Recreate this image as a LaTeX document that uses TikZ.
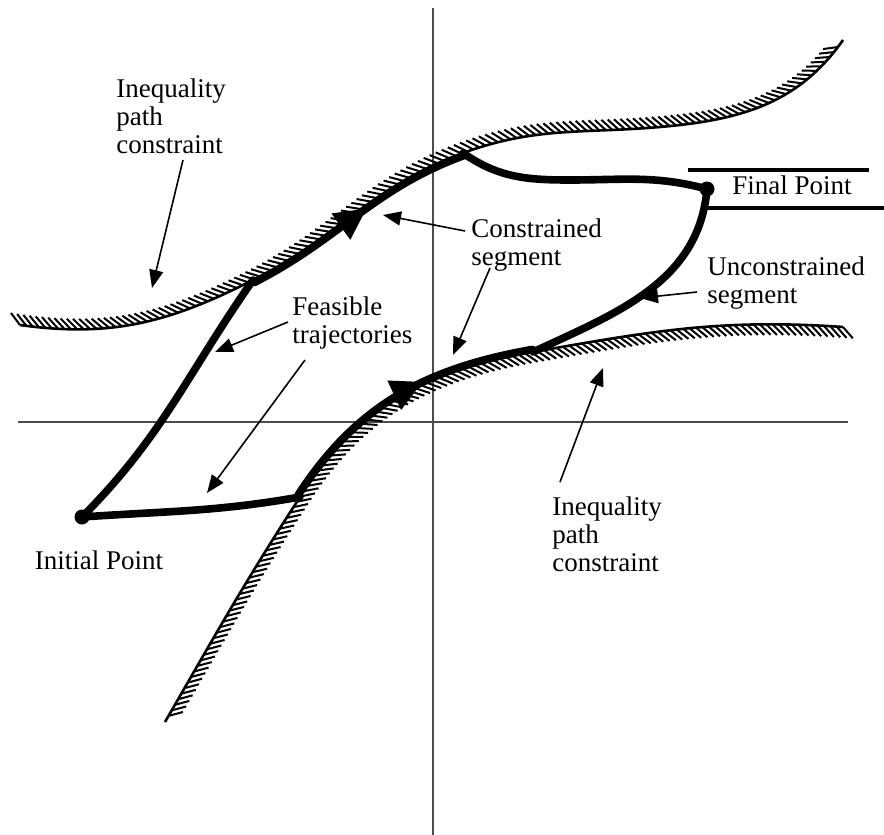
\documentclass[tikz,border=0pt]{standalone}
\usepackage{fontspec}
\setmainfont{Liberation Serif}
\usetikzlibrary{arrows.meta, decorations.pathreplacing, decorations.markings}

\begin{document}
\begin{tikzpicture}[x=0.5pt, y=0.5pt,
    constraint/.style={line width=1.3pt, postaction={draw, line width=1pt, decorate,
        decoration={border, segment length=3.2pt, amplitude=7.5pt, angle=135}}},
    traj/.style={line width=3.8pt, line cap=round, line join=round},
    midarrow/.style={postaction={decorate, decoration={markings,
        mark=at position #1 with {\arrow{Triangle[length=16pt, width=15pt]}}}}},
    pointer/.style={-{Triangle[length=9pt, width=7pt]}, line width=0.8pt},
    axis/.style={line width=0.9pt, black!70},
    lbl/.style={font=\fontsize{13.5}{14}\selectfont, align=left, inner sep=0pt},
    dot/.style={circle, fill, inner sep=0pt, minimum size=7.5pt}
]
    \useasboundingbox (0,0) rectangle (884,-835);

    % axes
    \draw[axis] (433,-8) -- (433,-835);
    \draw[axis] (18,-422) -- (848,-422);

    % points on the two constraints
    \coordinate (u0) at (20,-325);
    \coordinate (u1) at (253,-280);
    \coordinate (u2) at (463,-153);
    \coordinate (u3) at (660,-127);
    \coordinate (u4) at (843,-40);
    \coordinate (l0) at (843,-327);
    \coordinate (l1) at (533,-352);
    \coordinate (l2) at (300,-497);
    \coordinate (l3) at (165,-722);

    \draw[constraint] (u0) to[out=-8, in=207] (u1) to[out=27, in=200] (u2)
        to[out=20, in=185] (u3) to[out=5, in=235] (u4);
    \draw[constraint] (l0) to[out=176, in=10] (l1) to[out=190, in=57] (l2)
        to[out=237, in=60] (l3);

    \node[dot] (init) at (82,-517) {};
    \node[dot] (final) at (707,-189) {};

    % trajectories
    \draw[traj] (init.center) to[out=45, in=235] (u1);
    \draw[traj, midarrow=0.55] ([shift={(0.6pt,-1.3pt)}]u1) to[out=27, in=200] ([shift={(0.5pt,-1.3pt)}]u2);
    \draw[traj] (u2) to[out=-35, in=180] (570,-180) to[out=0, in=165] (final.center);
    \draw[traj] (init.center) to[out=4, in=190] (l2);
    \draw[traj, midarrow=0.6] ([shift={(-1pt,1pt)}]l2) to[out=57, in=190] ([shift={(-0.3pt,1.3pt)}]l1);
    \draw[traj] (final.center) to[out=-95, in=25] (l1);

    \draw[line width=2pt] (688,-170) -- (869,-170);
    \draw[line width=2pt] (703,-208) -- (884,-208);

    % labels
    \node[lbl, anchor=north west] (upperlbl) at (116,-78) {Inequality\\path\\constraint};
    \node[lbl, anchor=north west] (constrlbl) at (471,-218) {Constrained\\segment};
    \node[lbl, anchor=north west] (unconstrlbl) at (707,-256) {Unconstrained\\segment};
    \node[lbl, anchor=north west] (feaslbl) at (292,-296) {Feasible\\trajectories};
    \node[lbl, anchor=north west] (lowerlbl) at (552,-496) {Inequality\\path\\constraint};
    \node[lbl, anchor=base] (initlbl) at (99,-569) {Initial Point};
    \node[lbl, anchor=base] (finallbl) at (792,-194) {Final Point};

    % pointer ends
    \coordinate (upperFrom) at (183,-160);
    \coordinate (upperTo) at (152,-288);
    \coordinate (constrFromA) at (465,-231);
    \coordinate (constrToA) at (383,-215);
    \coordinate (constrFromB) at (490,-268);
    \coordinate (constrToB) at (453,-355);
    \coordinate (unconstrFrom) at (697,-292);
    \coordinate (unconstrTo) at (640,-298);
    \coordinate (feasFromA) at (288,-322);
    \coordinate (feasToA) at (215,-352);
    \coordinate (feasFromB) at (305,-360);
    \coordinate (feasToB) at (207,-493);
    \coordinate (lowerFrom) at (560,-482);
    \coordinate (lowerTo) at (603,-368);

    \draw[pointer] (upperFrom) -- (upperTo);
    \draw[pointer] (constrFromA) -- (constrToA);
    \draw[pointer] (constrFromB) -- (constrToB);
    \draw[pointer] (unconstrFrom) -- (unconstrTo);
    \draw[pointer] (feasFromA) -- (feasToA);
    \draw[pointer] (feasFromB) -- (feasToB);
    \draw[pointer] (lowerFrom) -- (lowerTo);
\end{tikzpicture}
\end{document}
